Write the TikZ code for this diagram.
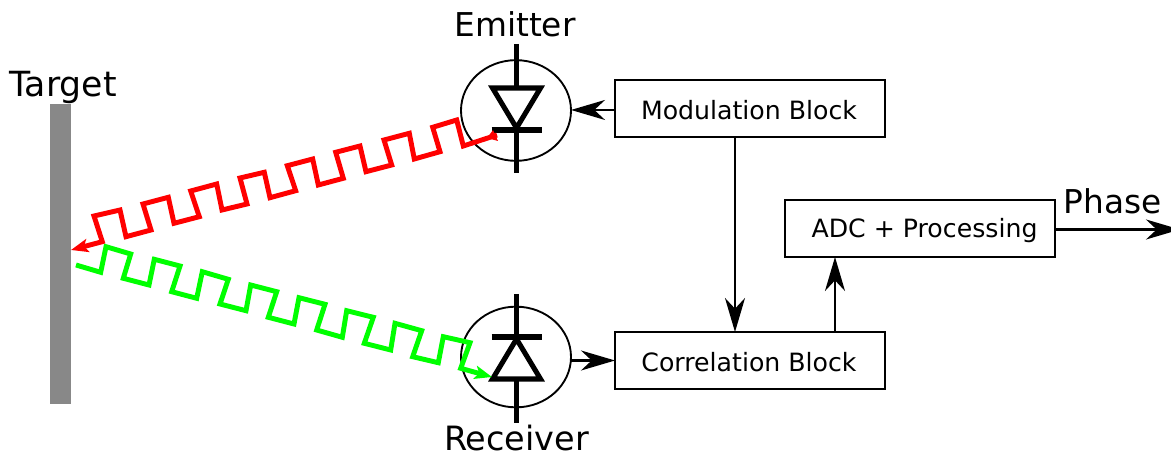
\documentclass[tikz,border=0pt]{standalone}
\usepackage{fontspec}
\setmainfont{DejaVu Sans}
\usetikzlibrary{arrows.meta,calc,shapes.geometric}
\definecolor{barg}{HTML}{888888}
\tikzset{
  blockbox/.style={draw=black,line width=1.2pt,rectangle,minimum width=202.5pt,minimum height=42.75pt,inner sep=0pt,outer sep=0pt},
  blocktext/.style={inner sep=0pt,font=\fontsize{18.9pt}{22pt}\selectfont},
  lens/.style={draw=black,line width=1.4pt,ellipse,minimum width=82.5pt,minimum height=75.5pt,inner sep=0pt,outer sep=0pt},
  biglabel/.style={inner sep=0pt,font=\fontsize{24.6pt}{28pt}\selectfont},
  diode/.style={draw=black,line width=3.8pt,miter limit=10},
  conn/.style={draw=black,line width=1.6pt,-{Stealth[length=25.5pt,width=15pt,inset=8pt]}},
  waveR/.style={draw=red,line width=3.7pt,miter limit=10,-{Stealth[length=13pt,width=10pt,inset=3pt]}},
  waveG/.style={draw=green,line width=3.7pt,miter limit=10,-{Stealth[length=13pt,width=10pt,inset=3pt]}}
}
\begin{document}
\begin{tikzpicture}[x=0.75pt,y=-0.75pt]
\useasboundingbox (0,0) rectangle (1171,452);
% target
\node[rectangle,fill=barg,minimum width=15.75pt,minimum height=225pt,inner sep=0pt,outer sep=0pt] (bar) at (60.5,254) {};
\node[biglabel,font=\fontsize{26pt}{28pt}\selectfont] (tlabel) at (63,87.5) {Target};
% lenses
\node[lens] (em) at (516,110.5) {};
\node[lens] (rc) at (516,357) {};
\node[biglabel] (elabel) at (515,24) {Emitter};
\node[biglabel,font=\fontsize{25.1pt}{28pt}\selectfont] (rlabel) at (516.5,438.5) {Receiver};
% emitter diode
\coordinate (et) at (516.5,44);
\coordinate (eb) at (516.5,173);
\draw[diode] (et) -- (516.5,88);
\draw[diode] (492.5,88) -- (540.5,88) -- (516.5,128) -- cycle;
\draw[diode] (491.5,130) -- (541.5,130);
\draw[diode] (516.5,130) -- (eb);
% receiver diode
\coordinate (rt) at (516.5,294);
\coordinate (rb) at (516.5,423);
\draw[diode] (rt) -- (516.5,337);
\draw[diode] (491.5,337) -- (541.5,337);
\draw[diode] (492.5,379) -- (540.5,379) -- (516.5,339) -- cycle;
\draw[diode] (516.5,379) -- (rb);
% boxes
\node[blockbox] (mod) at (750,108.5) {};
\node[blockbox] (adc) at (920,228.5) {};
\node[blockbox] (cor) at (750,360.5) {};
\node[blocktext] (modt) at (749,110) {Modulation Block};
\node[blocktext] (adct) at (924.5,230.5) {ADC + Processing};
\node[blocktext] (cort) at (749,362) {Correlation Block};
\node[biglabel] (plabel) at (1112.5,201) {Phase};
\coordinate (pend) at (1180,229.5);
% connectors
\draw[conn] ([yshift=-1.1pt]mod.west) -- ([yshift=-1.1pt]mod.west -| em.east);
\draw[conn] ([xshift=-11.25pt]mod.south) -- ([xshift=-11.25pt]cor.north);
\draw[conn] (rc.east |- cor.west) -- (cor.west);
\draw[conn] ([xshift=63.75pt]cor.north) -- ([xshift=-63.75pt]adc.south);
\draw[conn] (adc.east |- pend) -- (pend);
% waves
\coordinate (rs) at (497,135);
\coordinate (re) at (71,250);
\coordinate (gs) at (76,265);
\coordinate (ge) at (492,377);
\draw[waveR] (rs) -- (463.3,146) -- (456.7,120) -- (432.7,127.3) -- (440,151.7) -- (414.3,159) -- (409.3,133.3) -- (384,140) -- (391.7,165) -- (366,171.7) -- (360,146) -- (335.7,152.3) -- (343.3,178.3) -- (318.3,185) -- (312.7,159) -- (287.3,165.7) -- (295.7,190.7) -- (270,197.7) -- (264.3,172.3) -- (240,178) -- (247,204) -- (222,210) -- (216.7,184) -- (190.7,191) -- (199.3,216.7) -- (174,223.3) -- (168.3,197.3) -- (143,204) -- (151,230) -- (126,236.7) -- (120,210) -- (94,216) -- (102.3,241.7) -- (re);
\fill[red] (493,130) -- (498,141) -- (487,138) -- cycle;
\draw[waveG] (gs) -- (100.7,272.3) -- (106,246.7) -- (130.7,254) -- (123.3,278.3) -- (149,285) -- (154.3,259.3) -- (180,266) -- (171.7,291.7) -- (196.7,298.3) -- (202.3,271.7) -- (228.3,279.3) -- (220,304) -- (246,310.7) -- (250.7,285) -- (276.7,291.7) -- (268.3,317.3) -- (294,324) -- (299,297.7) -- (325,304.3) -- (316.7,330) -- (342.3,337.3) -- (346.7,310.7) -- (373.3,317.3) -- (364.3,343.3) -- (390.7,350) -- (395,323.3) -- (421.7,330.7) -- (412.7,356.7) -- (438.3,362.7) -- (443.3,336.7) -- (470,342.7) -- (460.7,368.3) -- (ge);
\end{tikzpicture}
\end{document}
